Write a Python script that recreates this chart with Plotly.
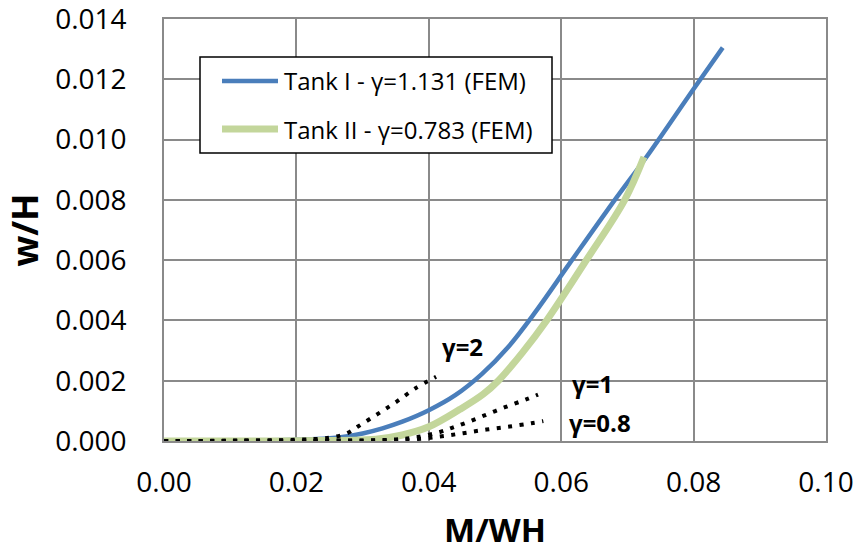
import plotly.graph_objects as go

# ---- data ----
tank1_x = [0, 0.010, 0.020, 0.025, 0.028, 0.030, 0.033, 0.036, 0.040, 0.044, 0.048,
           0.052, 0.056, 0.0613, 0.0681, 0.0729, 0.080, 0.0844]
tank1_y = [0, 0.00001, 0.00004, 0.00009, 0.00017, 0.00025, 0.00042, 0.00064, 0.00102, 0.00152,
           0.00222, 0.00312, 0.00425, 0.00590, 0.00800, 0.00943, 0.01168, 0.01305]

tank2_x = [0, 0.020, 0.032, 0.036, 0.040, 0.0447, 0.0482, 0.0505, 0.0542, 0.0578, 0.0638,
           0.0696, 0.0725]
tank2_y = [0, 0.00001, 0.00006, 0.00020, 0.00047, 0.00105, 0.00155, 0.00200, 0.00295, 0.00400,
           0.00600, 0.00800, 0.00942]

g2_x = [0, 0.010, 0.020, 0.025, 0.0276, 0.0293, 0.0323, 0.0351, 0.0380, 0.0411]
g2_y = [0, 0.00001, 0.00004, 0.00011, 0.00025, 0.00048, 0.00090, 0.00130, 0.00175, 0.00213]

g1_x = [0, 0.020, 0.030, 0.035, 0.038, 0.0417, 0.0434, 0.0452, 0.0482, 0.0515, 0.0547, 0.0565]
g1_y = [0, 0.00001, 0.00002, 0.00005, 0.00012, 0.00030, 0.00043, 0.00057, 0.00083, 0.00112,
        0.00138, 0.00154]

g08_x = [0, 0.020, 0.034, 0.038, 0.0417, 0.0452, 0.0487, 0.0522, 0.0555, 0.0573]
g08_y = [0, 0.00001, 0.00002, 0.00006, 0.00015, 0.00026, 0.00038, 0.00048, 0.00059, 0.00066]

series_names = ["Tank I - γ=1.131 (FEM)", "Tank II - γ=0.783 (FEM)"]
curve_labels = ["γ=2", "γ=1", "γ=0.8"]
label_x = [0.0417, 0.0613, 0.0608]
label_y = [0.00312, 0.00192, 0.00060]

x_ticks = [0.00, 0.02, 0.04, 0.06, 0.08, 0.10]
y_ticks = [0.000, 0.002, 0.004, 0.006, 0.008, 0.010, 0.012, 0.014]

BLUE = "#4a7ebb"
GREEN = "#c3d69b"
GRID = "#8a8a8a"
FONT = "Open Sans"

fig = go.Figure()
fig.add_trace(go.Scatter(x=tank1_x, y=tank1_y, mode="lines", name=series_names[0],
                         line=dict(color=BLUE, width=4.5, shape="spline", smoothing=1.0),
                         showlegend=False))
fig.add_trace(go.Scatter(x=tank2_x, y=tank2_y, mode="lines", name=series_names[1],
                         line=dict(color=GREEN, width=7, shape="spline", smoothing=1.0),
                         showlegend=False))
for xs, ys, nm in [(g2_x, g2_y, curve_labels[0]), (g1_x, g1_y, curve_labels[1]),
                   (g08_x, g08_y, curve_labels[2])]:
    fig.add_trace(go.Scatter(x=xs, y=ys, mode="lines", name=nm, showlegend=False,
                             line=dict(color="black", width=4, dash="4px,7.5px",
                                       shape="spline", smoothing=1.0)))

for t, xx, yy in zip(curve_labels, label_x, label_y):
    fig.add_annotation(x=xx, y=yy, text="<b>%s</b>" % t, showarrow=False,
                       xanchor="left", yanchor="middle",
                       font=dict(family=FONT, size=24, color="black"))

# ---- legend box (paper coordinates) ----
L, R, T, B = 164, 31, 19, 111
W, H = 857, 552
pw, ph = W - L - R, H - T - B
def px(xpix):
    return (xpix - L) / pw
def py(ypix):
    return (H - B - ypix) / ph

fig.add_shape(type="rect", xref="paper", yref="paper", x0=px(200), x1=px(552),
              y0=py(153), y1=py(57), line=dict(color="black", width=1.5),
              fillcolor="white", layer="above")
for i, (col, wd) in enumerate([(BLUE, 4.5), (GREEN, 7)]):
    yrow = 81 + 48 * i
    fig.add_shape(type="line", xref="paper", yref="paper", x0=px(222), x1=px(278),
                  y0=py(yrow), y1=py(yrow), line=dict(color=col, width=wd), layer="above")
    fig.add_annotation(xref="paper", yref="paper", x=px(282), y=py(yrow), text=series_names[i],
                       showarrow=False, xanchor="left", yanchor="middle",
                       font=dict(family=FONT, size=24, color="black"))

axis_common = dict(showgrid=True, gridcolor=GRID, gridwidth=1.5, showline=True, mirror=True,
                   linecolor=GRID, linewidth=1.5, zeroline=False, ticks="",
                   tickfont=dict(family=FONT, size=28, color="black"), automargin=False,
                   ticklabeloverflow="allow")

fig.update_xaxes(range=[0, 0.1000001], tickvals=x_ticks, tickformat=".2f",
                 title=dict(text="<b>M/WH</b>", font=dict(family=FONT, size=33, color="black"),
                            standoff=30),
                 ticklabelstandoff=16, **axis_common)
fig.update_yaxes(range=[0, 0.01400001], tickvals=y_ticks, tickformat=".3f",
                 title=dict(text="<b>w/H</b>", font=dict(family=FONT, size=36, color="black"),
                            standoff=14),
                 ticklabelstandoff=30, **axis_common)

fig.update_layout(width=W, height=H, margin=dict(l=L, r=R, t=T, b=B),
                  plot_bgcolor="white", paper_bgcolor="white", showlegend=False)

fig.write_html("out.html", config={"displayModeBar": False},
               post_script="document.body.style.margin='0';document.body.style.padding='0';")
